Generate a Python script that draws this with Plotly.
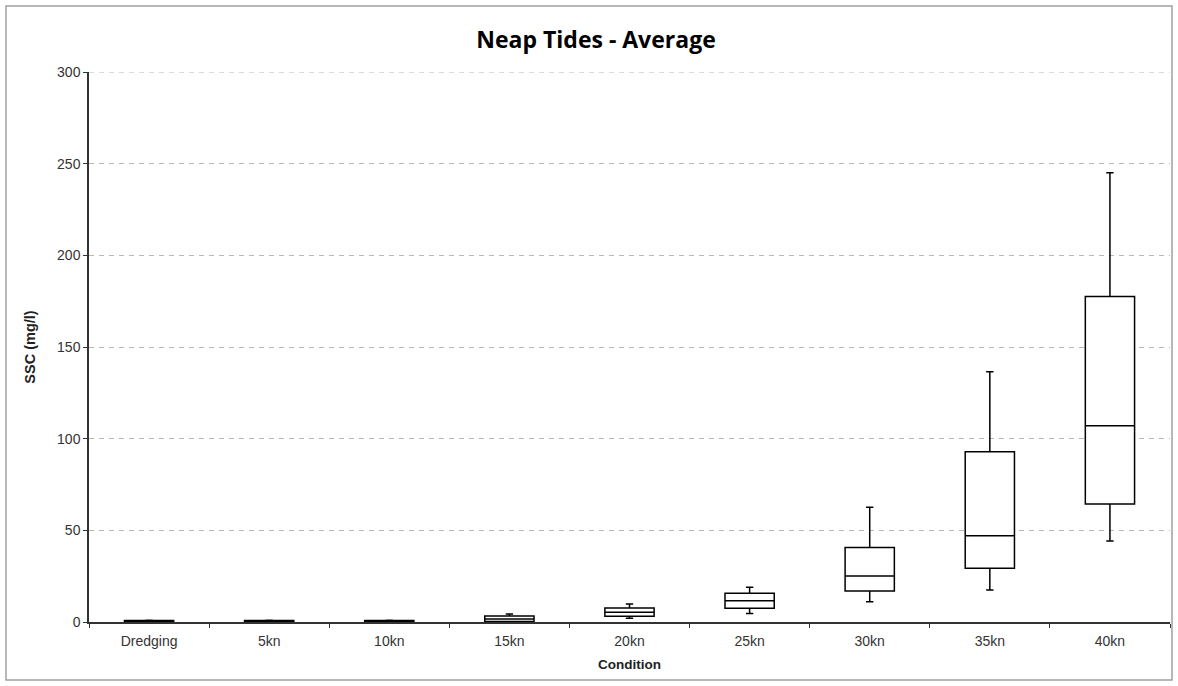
import plotly.graph_objects as go

categories = ["Dredging", "5kn", "10kn", "15kn", "20kn", "25kn", "30kn", "35kn", "40kn"]
lower = [0.2, 0.2, 0.2, 0.1, 2.0, 4.7, 11.1, 17.5, 44.2]
q1 = [0.3, 0.3, 0.3, 0.3, 3.1, 7.5, 16.9, 29.3, 64.4]
median = [0.5, 0.5, 0.5, 1.6, 5.3, 11.6, 25.1, 47.0, 107.0]
q3 = [0.8, 0.8, 0.8, 3.3, 7.6, 15.7, 40.7, 92.9, 177.5]
upper = [1.0, 1.0, 1.0, 4.4, 9.8, 18.9, 62.6, 136.5, 245.0]
y_ticks = [0, 50, 100, 150, 200, 250, 300]

fig = go.Figure()
fig.add_trace(go.Box(
    x=categories, q1=q1, median=median, q3=q3,
    lowerfence=lower, upperfence=upper,
    fillcolor="white", line=dict(color="black", width=1.5),
    whiskerwidth=0.15, width=0.41, boxpoints=False, showlegend=False,
    hoverinfo="skip",
))

W, H = 1178, 686
L, R, T, B = 89, 8, 72, 64
pw, ph = W - L - R, H - T - B
def px(x): return (x - L) / pw
def py(y): return (H - B - y) / ph

fig.add_shape(type="rect", xref="paper", yref="paper",
              x0=px(6), x1=px(1172), y0=py(680), y1=py(6),
              line=dict(color="#a0a0a0", width=1.5), layer="below")
# top gridline (plotly suppresses gridlines lying on the plot edge)
fig.add_shape(type="line", xref="paper", yref="y", x0=0, x1=1,
              y0=y_ticks[-1], y1=y_ticks[-1],
              line=dict(color="#b8b8b8", width=1, dash="5px,5px"), layer="below")

fig.update_layout(
    width=W, height=H, margin=dict(l=L, r=R, t=T, b=B),
    paper_bgcolor="white", plot_bgcolor="white",
    font=dict(family="Liberation Sans, Arial", size=14, color="#333"),
    title=dict(text="<b>Neap Tides - Average</b>", x=596 / W, xanchor="center",
               xref="container", y=1 - 40 / H, yanchor="middle",
               font=dict(family="Open Sans, Lato", size=23, color="black")),
    xaxis=dict(title=dict(text="<b>Condition</b>", font=dict(size=13.5, color="#222"), standoff=12),
               range=[-0.5, 8.5],
               showline=True, linecolor="#333", linewidth=1.5,
               ticks="outside", tickson="boundaries", ticklen=4, tickcolor="#333",
               ticklabelstandoff=5,
               showgrid=False, tickfont=dict(size=14)),
    yaxis=dict(title=dict(text="<b>SSC (mg/l)</b>", font=dict(size=14.5, color="#222"), standoff=18),
               range=[0, 300], tickvals=y_ticks, showline=True, linecolor="#333",
               linewidth=1.5, ticks="outside", ticklen=4, tickcolor="#333",
               showgrid=True, gridcolor="#b8b8b8", griddash="5px,5px", gridwidth=1,
               zeroline=False, tickfont=dict(size=14)),
)

fig.write_html("out.html")
